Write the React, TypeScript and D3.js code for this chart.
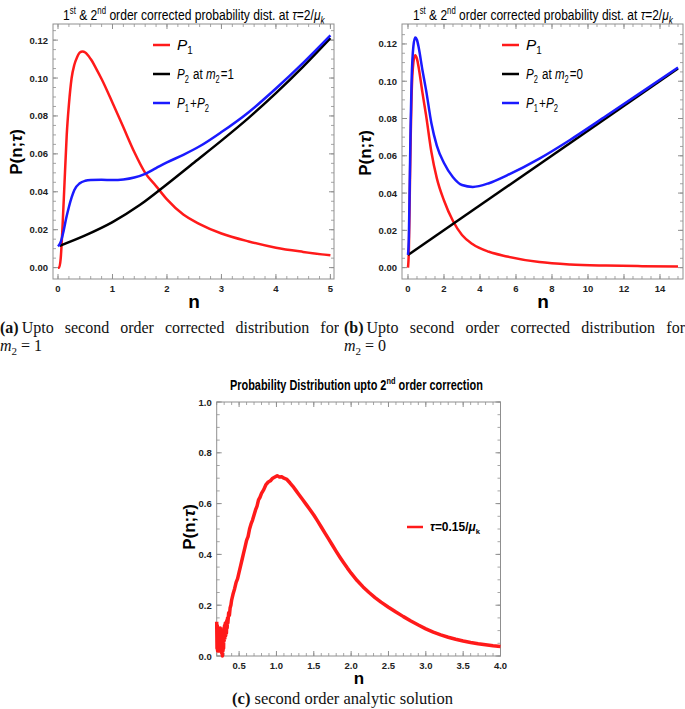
import React, { useLayoutEffect, useRef, useState } from 'react';
import * as d3 from 'd3';

// ---------- Panel (a) data ----------
const nA_red = [0, 0.02, 0.05, 0.08, 0.12, 0.16, 0.2, 0.25, 0.3, 0.35, 0.4, 0.45, 0.5, 0.6, 0.7, 0.8, 1.0, 1.2, 1.4, 1.6, 1.8, 2.0, 2.3, 2.6, 3.0, 3.5, 4.0, 4.5, 5.0];
const pA_red = [0, 0, 0.005, 0.02, 0.045, 0.07, 0.086, 0.1, 0.107, 0.111, 0.1135, 0.114, 0.1135, 0.11, 0.105, 0.0995, 0.087, 0.074, 0.061, 0.05, 0.043, 0.036, 0.028, 0.023, 0.018, 0.0138, 0.0105, 0.0083, 0.0065];
const nA_black = [0.03, 0.5, 1.0, 1.5, 2.0, 2.5, 3.0, 3.5, 4.0, 4.5, 5.0];
const pA_black = [0.0115, 0.017, 0.024, 0.033, 0.044, 0.0555, 0.067, 0.079, 0.092, 0.106, 0.121];
const nA_blue = [0, 0.05, 0.1, 0.15, 0.2, 0.25, 0.3, 0.4, 0.5, 0.6, 0.8, 1.0, 1.2, 1.4, 1.6, 1.8, 2.0, 2.3, 2.6, 3.0, 3.5, 4.0, 4.5, 5.0];
const pA_blue = [0.0112, 0.0135, 0.019, 0.026, 0.032, 0.037, 0.041, 0.0445, 0.0458, 0.0462, 0.0463, 0.0462, 0.0465, 0.0475, 0.0495, 0.0525, 0.0555, 0.0595, 0.064, 0.0715, 0.082, 0.0945, 0.108, 0.1225];

// ---------- Panel (b) data ----------
const nB = [0, 0.05, 0.1, 0.15, 0.2, 0.3, 0.4, 0.5, 0.6, 0.8, 1.0, 1.3, 1.6, 2.0, 2.5, 3.0, 3.6, 4.5, 5.5, 7.3, 9, 11, 13, 15];
const pB_red = [0, 0.01, 0.04, 0.07, 0.092, 0.11, 0.114, 0.112, 0.107, 0.094, 0.082, 0.062, 0.048, 0.036, 0.025, 0.0175, 0.0125, 0.0085, 0.006, 0.003, 0.0017, 0.0011, 0.0008, 0.0006];
const pB_blue = [0.0068, 0.0171, 0.0475, 0.0778, 0.1001, 0.1188, 0.1235, 0.1221, 0.1178, 0.1061, 0.0955, 0.0775, 0.0655, 0.0561, 0.0485, 0.0443, 0.0433, 0.0453, 0.0495, 0.0585, 0.0685, 0.0813, 0.0943, 0.1074];
const nB_black = [0, 15];
const pB_black = [0.0068, 0.1068];

// ---------- Panel (c) data ----------
const nC = [0.2, 0.204, 0.208, 0.212, 0.216, 0.22, 0.224, 0.228, 0.232, 0.236, 0.24, 0.244, 0.248, 0.252, 0.256, 0.26, 0.264, 0.268, 0.272, 0.276, 0.28, 0.284, 0.288, 0.292, 0.296, 0.3, 0.305, 0.31, 0.315, 0.32, 0.325, 0.33, 0.335, 0.34, 0.345, 0.35, 0.36, 0.37, 0.38, 0.39, 0.4, 0.42, 0.44, 0.46, 0.48, 0.5, 0.52, 0.54, 0.56, 0.58, 0.6, 0.62, 0.64, 0.66, 0.68, 0.7, 0.72, 0.74, 0.76, 0.78, 0.8, 0.83, 0.86, 0.89, 0.92, 0.95, 0.98, 1.01, 1.04, 1.07, 1.1, 1.14, 1.18, 1.22, 1.26, 1.3, 1.35, 1.4, 1.45, 1.5, 1.55, 1.6, 1.65, 1.7, 1.75, 1.8, 1.85, 1.9, 1.95, 2.0, 2.08, 2.16, 2.24, 2.32, 2.4, 2.5, 2.6, 2.7, 2.8, 2.9, 3.0, 3.1, 3.2, 3.3, 3.4, 3.5, 3.6, 3.7, 3.8, 3.9, 4.0];
const pC = [0.135, 0.03, 0.12, 0.02, 0.1, 0.04, 0.11, 0.02, 0.09, 0.03, 0.1, 0.05, 0.11, 0.02, 0.09, 0.04, 0.1, 0.01, 0.08, 0.0, 0.07, 0.02, 0.09, 0.03, 0.11, 0.06, 0.12, 0.07, 0.13, 0.08, 0.12, 0.09, 0.14, 0.11, 0.15, 0.13, 0.17, 0.16, 0.19, 0.2, 0.22, 0.245, 0.265, 0.29, 0.305, 0.33, 0.355, 0.38, 0.405, 0.43, 0.455, 0.47, 0.5, 0.52, 0.535, 0.555, 0.575, 0.59, 0.615, 0.625, 0.64, 0.655, 0.675, 0.685, 0.69, 0.7, 0.705, 0.71, 0.705, 0.706, 0.7, 0.695, 0.682, 0.668, 0.652, 0.636, 0.616, 0.596, 0.576, 0.555, 0.532, 0.508, 0.484, 0.46, 0.436, 0.412, 0.389, 0.367, 0.346, 0.326, 0.297, 0.272, 0.25, 0.23, 0.212, 0.192, 0.173, 0.155, 0.138, 0.122, 0.107, 0.094, 0.083, 0.074, 0.066, 0.059, 0.053, 0.048, 0.044, 0.04, 0.037];

// ---------- ticks ----------
const xMajorA = [0, 1, 2, 3, 4, 5];
const xMajorB = [0, 2, 4, 6, 8, 10, 12, 14];
const yMajorAB = [0, 0.02, 0.04, 0.06, 0.08, 0.1, 0.12];
const xMajorC = [0.5, 1.0, 1.5, 2.0, 2.5, 3.0, 3.5, 4.0];
const yMajorC = [0, 0.2, 0.4, 0.6, 0.8, 1.0];

const RED = '#ff1a1a';
const BLUE = '#1a1aff';
const BLACK = '#000';
const FRAME = '#8f8f8f';
const SANS = '"Liberation Sans", Arial, sans-serif';
const SERIF = '"Liberation Serif", "Times New Roman", serif';

type Sc = d3.ScaleLinear<number, number>;

// Text squeezed horizontally to a target width (condensed look)
function FitText(props: { x: number; y: number; width: number; children: React.ReactNode; [k: string]: any }) {
  const { x, y, width, children, ...rest } = props;
  const ref = useRef<SVGTextElement>(null);
  const [s, setS] = useState(1);
  useLayoutEffect(() => {
    if (ref.current) {
      const w = ref.current.getComputedTextLength();
      if (w > 0) setS(width / w);
    }
  }, [width]);
  return (
    <g transform={`translate(${x},${y}) scale(${s},1)`}>
      <text ref={ref} x={0} y={0} {...rest}>{children}</text>
    </g>
  );
}

function Frame(props: {
  x: Sc; y: Sc; xMajor: number[]; xMinor: number[]; yMajor: number[]; yMinor: number[];
  xFmt: (v: number) => string; yFmt: (v: number) => string; lblSize?: number;
}) {
  const { x, y, xMajor, xMinor, yMajor, yMinor, xFmt, yFmt } = props;
  const fs = props.lblSize ?? 9.5;
  const [x0, x1] = x.range();
  const [y0, y1] = y.range();
  const maj = 5, min = 3;
  return (
    <g>
      <rect x={x0} y={y1} width={x1 - x0} height={y0 - y1} fill="none" stroke={FRAME} strokeWidth={1} />
      {xMinor.map((v, i) => (
        <g key={'xm' + i} stroke={FRAME} strokeWidth={0.8}>
          <line x1={x(v)} x2={x(v)} y1={y0} y2={y0 - min} />
          <line x1={x(v)} x2={x(v)} y1={y1} y2={y1 + min} />
        </g>
      ))}
      {xMajor.map((v, i) => (
        <g key={'xM' + i}>
          <line x1={x(v)} x2={x(v)} y1={y0} y2={y0 - maj} stroke={FRAME} strokeWidth={1} />
          <line x1={x(v)} x2={x(v)} y1={y1} y2={y1 + maj} stroke={FRAME} strokeWidth={1} />
          <text x={x(v)} y={y0 + 13} textAnchor="middle" fontFamily={SANS} fontWeight="bold" fontSize={fs} fill="#222">{xFmt(v)}</text>
        </g>
      ))}
      {yMinor.map((v, i) => (
        <g key={'ym' + i} stroke={FRAME} strokeWidth={0.8}>
          <line x1={x0} x2={x0 + min} y1={y(v)} y2={y(v)} />
          <line x1={x1} x2={x1 - min} y1={y(v)} y2={y(v)} />
        </g>
      ))}
      {yMajor.map((v, i) => (
        <g key={'yM' + i}>
          <line x1={x0} x2={x0 + maj} y1={y(v)} y2={y(v)} stroke={FRAME} strokeWidth={1} />
          <line x1={x1} x2={x1 - maj} y1={y(v)} y2={y(v)} stroke={FRAME} strokeWidth={1} />
          <text x={x0 - 5} y={y(v) + 3.5} textAnchor="end" fontFamily={SANS} fontWeight="bold" fontSize={fs} fill="#222">{yFmt(v)}</text>
        </g>
      ))}
    </g>
  );
}

function curve(x: Sc, y: Sc, ns: number[], ps: number[], c: d3.CurveFactory = d3.curveMonotoneX) {
  const pts: [number, number][] = ns.map((n, i) => [n, ps[i]]);
  return d3.line<[number, number]>().x(d => x(d[0])).y(d => y(d[1])).curve(c)(pts) || '';
}

const Sub = ({ children }: { children: React.ReactNode }) => (
  <>
    <tspan dy={3.5} fontSize={10} fontStyle="normal">{children}</tspan>
    <tspan dy={-3.5}>{'\u200A'}</tspan>
  </>
);

function LegendAB({ x, ys, m2 }: { x: number; ys: number[]; m2: string }) {
  const rows = [
    { c: RED, w: 17, t: <><tspan fontStyle="italic">P</tspan><Sub>1</Sub></> },
    { c: BLACK, w: 57, t: <><tspan fontStyle="italic">P</tspan><Sub>2</Sub><tspan> at </tspan><tspan fontStyle="italic">m</tspan><Sub>2</Sub><tspan>={m2}</tspan></> },
    { c: BLUE, w: 33, t: <><tspan fontStyle="italic">P</tspan><Sub>1</Sub><tspan>+</tspan><tspan fontStyle="italic">P</tspan><Sub>2</Sub></> },
  ];
  return (
    <g>
      {rows.map((r, i) => (
        <g key={i}>
          <line x1={x} x2={x + 17} y1={ys[i]} y2={ys[i]} stroke={r.c} strokeWidth={2.5} />
          <FitText x={x + 24} y={ys[i] + 5} width={r.w} fontFamily={SANS} fontSize={15.5} fill="#000">{r.t}</FitText>
        </g>
      ))}
    </g>
  );
}

function TitleAB({ x, w }: { x: number; w: number }) {
  return (
    <FitText x={x} y={20} width={w} fontFamily={SANS} fontSize={15.5} fill="#000">
      <tspan>1</tspan><tspan dy={-6.5} fontSize={10}>st</tspan><tspan dy={6.5}>{' & 2'}</tspan><tspan dy={-6.5} fontSize={10}>nd</tspan>
      <tspan dy={6.5}>{' order corrected probability dist. at '}</tspan><tspan fontStyle="italic">τ</tspan><tspan>=2/</tspan><tspan fontStyle="italic">μ</tspan>
      <tspan dy={3.5} fontSize={10.5} fontStyle="italic">k</tspan>
    </FitText>
  );
}

const PLabel = ({ cx, cy }: { cx: number; cy: number }) => (
  <text transform={`translate(${cx},${cy}) rotate(-90)`} textAnchor="middle" fontFamily={SANS} fontWeight="bold" fontSize={17} fill="#000">
    P(n;<tspan fontStyle="italic">τ</tspan>)
  </text>
);

export default function App() {
  const xA = d3.scaleLinear().domain([-0.092, 5.066]).range([53, 334]);
  const yA = d3.scaleLinear().domain([-0.006, 0.1285]).range([279, 24]);
  const xB = d3.scaleLinear().domain([-0.333, 15.278]).range([402, 683]);
  const yB = d3.scaleLinear().domain([-0.0061, 0.1307]).range([279, 24]);
  const xC = d3.scaleLinear().domain([0.2, 4.0]).range([216.7, 500.5]);
  const yC = d3.scaleLinear().domain([0, 1]).range([656, 402]);

  const yMinorAB = d3.range(0, 0.1251, 0.005);
  const xMinorA = d3.range(0, 5.0001, 0.2);
  const xMinorB = d3.range(0, 15.0001, 0.5);
  const xMinorC = d3.range(0.2, 4.0001, 0.1);
  const yMinorC = d3.range(0, 1.0001, 0.05);

  const capStyle: React.CSSProperties = {
    fontFamily: SERIF, fontSize: '16px', lineHeight: '18px', color: '#111', textAlign: 'justify',
    textAlignLast: 'justify' as any, whiteSpace: 'normal', margin: 0,
  };
  const capLeft: React.CSSProperties = { ...capStyle, textAlign: 'left', textAlignLast: 'left' as any };

  return (
    <svg width={685} height={709} viewBox="0 0 685 709" style={{ position: 'absolute', left: 0, top: 0, background: '#fff' }}>
      <rect x={0} y={0} width={685} height={709} fill="#fff" />

      {/* Panel (a) */}
      <TitleAB x={63} w={262} />
      <Frame x={xA} y={yA} xMajor={xMajorA} xMinor={xMinorA} yMajor={yMajorAB} yMinor={yMinorAB}
        xFmt={v => d3.format('d')(v)} yFmt={v => d3.format('.2f')(v)} />
      <path d={curve(xA, yA, nA_red, pA_red)} fill="none" stroke={RED} strokeWidth={2.5} />
      <path d={curve(xA, yA, nA_black, pA_black)} fill="none" stroke={BLACK} strokeWidth={2.5} />
      <path d={curve(xA, yA, nA_blue, pA_blue)} fill="none" stroke={BLUE} strokeWidth={2.5} />
      <LegendAB x={153} ys={[45, 74, 103]} m2="1" />
      <PLabel cx={22} cy={152} />
      <text x={194} y={308} textAnchor="middle" fontFamily={SANS} fontWeight="bold" fontSize={19}>n</text>

      {/* Panel (b) */}
      <TitleAB x={413} w={260} />
      <Frame x={xB} y={yB} xMajor={xMajorB} xMinor={xMinorB} yMajor={yMajorAB} yMinor={yMinorAB}
        xFmt={v => d3.format('d')(v)} yFmt={v => d3.format('.2f')(v)} />
      <path d={curve(xB, yB, nB, pB_red)} fill="none" stroke={RED} strokeWidth={2.5} />
      <path d={curve(xB, yB, nB_black, pB_black, d3.curveLinear)} fill="none" stroke={BLACK} strokeWidth={2.5} />
      <path d={curve(xB, yB, nB, pB_blue)} fill="none" stroke={BLUE} strokeWidth={2.5} />
      <LegendAB x={502} ys={[45, 74, 103]} m2="0" />
      <PLabel cx={371} cy={153} />
      <text x={543} y={308} textAnchor="middle" fontFamily={SANS} fontWeight="bold" fontSize={19}>n</text>

      {/* Captions (a), (b) */}
      <foreignObject x={0} y={319} width={339} height={40}>
        <div style={capStyle}><b style={{ marginRight: '3px' }}>(a)</b>Upto second order corrected distribution for</div>
        <div style={capLeft}><i>m</i><sub style={{ fontSize: '11px' }}>2</sub> = 1</div>
      </foreignObject>
      <foreignObject x={344} y={319} width={341} height={40}>
        <div style={capStyle}><b style={{ marginRight: '3px' }}>(b)</b>Upto second order corrected distribution for</div>
        <div style={capLeft}><i>m</i><sub style={{ fontSize: '11px' }}>2</sub> = 0</div>
      </foreignObject>

      {/* Panel (c) */}
      <FitText x={230} y={390} width={253} fontFamily={SANS} fontWeight="bold" fontSize={14} fill="#000">
        <tspan>Probability Distribution upto 2</tspan><tspan dy={-6} fontSize={9.5}>nd</tspan><tspan dy={6}> order correction</tspan>
      </FitText>
      <Frame x={xC} y={yC} xMajor={xMajorC} xMinor={xMinorC} yMajor={yMajorC} yMinor={yMinorC}
        xFmt={v => d3.format('.1f')(v)} yFmt={v => d3.format('.1f')(v)} />
      <path d={curve(xC, yC, nC, pC, d3.curveLinear)} fill="none" stroke={RED} strokeWidth={3.5} strokeLinejoin="round" />
      <line x1={407} x2={423} y1={527} y2={527} stroke={RED} strokeWidth={2.5} />
      <FitText x={430} y={531} width={50} fontFamily={SANS} fontWeight="bold" fontSize={12.5}>
        <tspan fontStyle="italic">τ</tspan>=0.15/<tspan fontStyle="italic">μ</tspan><tspan dy={3} fontSize={8}>k</tspan>
      </FitText>
      <PLabel cx={195} cy={527} />
      <text x={359} y={684} textAnchor="middle" fontFamily={SANS} fontWeight="bold" fontSize={17}>n</text>
      <foreignObject x={130} y={690} width={425} height={19}>
        <div style={{ fontFamily: SERIF, fontSize: '16.5px', lineHeight: '18px', color: '#111', textAlign: 'center' }}><b>(c)</b> second order analytic solution</div>
      </foreignObject>
    </svg>
  );
}
